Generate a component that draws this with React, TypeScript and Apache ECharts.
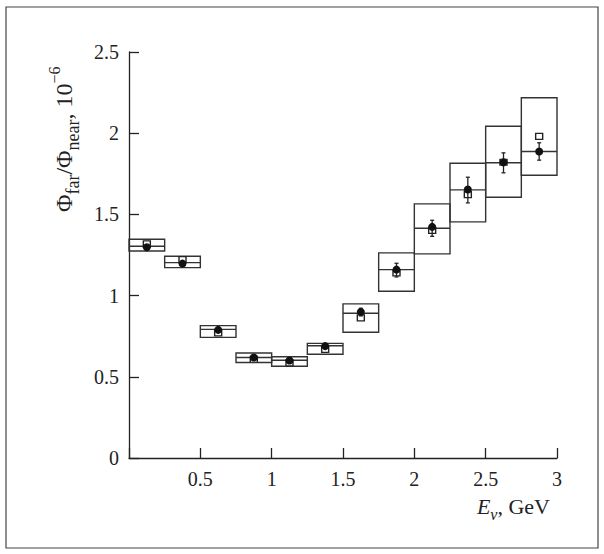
import React, { useEffect, useRef } from "react";
import * as echarts from "echarts";

const binLow = [0, 0.25, 0.5, 0.75, 1, 1.25, 1.5, 1.75, 2, 2.25, 2.5, 2.75];
const binHigh = [0.25, 0.5, 0.75, 1, 1.25, 1.5, 1.75, 2, 2.25, 2.5, 2.75, 3];
const central = [1.304, 1.203, 0.792, 0.619, 0.602, 0.691, 0.891, 1.16, 1.415, 1.651, 1.818, 1.887];
const systLow = [1.275, 1.172, 0.743, 0.588, 0.565, 0.639, 0.774, 1.027, 1.257, 1.454, 1.606, 1.741];
const systHigh = [1.347, 1.242, 0.815, 0.647, 0.623, 0.706, 0.949, 1.263, 1.565, 1.815, 2.043, 2.218];
const circleVal = [1.298, 1.197, 0.789, 0.619, 0.6, 0.689, 0.9, 1.16, 1.423, 1.653, 1.821, 1.887];
const circleErrLow = [1.29, 1.189, 0.781, 0.611, 0.592, 0.68, 0.875, 1.115, 1.365, 1.571, 1.756, 1.834];
const circleErrHigh = [1.306, 1.205, 0.797, 0.627, 0.608, 0.698, 0.922, 1.199, 1.464, 1.729, 1.879, 1.941];
const squareVal = [1.318, 1.222, 0.77, 0.608, 0.586, 0.669, 0.863, 1.14, 1.402, 1.622, 1.821, 1.98];

const INK = "#222";
const FONT = "'Liberation Serif', 'Times New Roman', serif";

export default function App() {
  const ref = useRef<HTMLDivElement>(null);
  useEffect(() => {
    if (!ref.current) return;
    const chart = echarts.init(ref.current, null, { renderer: "svg" });
    const centers = binLow.map((l, i) => (l + binHigh[i]) / 2);
    const boxData = binLow.map((l, i) => [l, binHigh[i], systLow[i], systHigh[i], central[i]]);
    const errData = centers.map((c, i) => [c, circleErrLow[i], circleErrHigh[i]]);
    chart.setOption({
      animation: false,
      grid: { left: 129, right: 47, top: 52, bottom: 96 },
      xAxis: {
        type: "value",
        min: 0,
        max: 3,
        interval: 0.5,
        splitLine: { show: false },
        axisLine: { lineStyle: { color: INK, width: 1.3 } },
        axisTick: { inside: true, length: 10, lineStyle: { color: INK, width: 1.3 } },
        axisLabel: {
          color: INK,
          fontFamily: FONT,
          fontSize: 20,
          margin: 11,
          formatter: (v: number) => (v === 0 ? "" : String(v)),
        },
      },
      yAxis: {
        type: "value",
        min: 0,
        max: 2.5,
        interval: 0.5,
        splitLine: { show: false },
        axisLine: { show: true, lineStyle: { color: INK, width: 1.3 } },
        axisTick: { show: true, inside: true, length: 10, lineStyle: { color: INK, width: 1.3 } },
        axisLabel: { color: INK, fontFamily: FONT, fontSize: 20, margin: 10 },
      },
      graphic: [
        {
          type: "rect",
          shape: { x: 6, y: 7, width: 592, height: 541 },
          style: { fill: "none", stroke: "#444", lineWidth: 1.2 },
          silent: true,
        },
        {
          type: "text",
          x: 64,
          y: 138,
          rotation: Math.PI / 2,
          style: {
            text: "{m|Φ}{s|far}{m|/Φ}{s|near}{m|, 10}{p|−6}{h| }",
            align: "center",
            verticalAlign: "middle",
            fill: INK,
            rich: {
              m: { fontFamily: FONT, fontSize: 24, fill: INK, verticalAlign: "middle", lineHeight: 24 },
              s: { fontFamily: FONT, fontSize: 18, fill: INK, verticalAlign: "bottom", lineHeight: 18 },
              p: { fontFamily: FONT, fontSize: 16, fill: INK, verticalAlign: "top", lineHeight: 16 },
              h: { fontFamily: FONT, fontSize: 10, lineHeight: 36 },
            },
          },
        },
        {
          type: "text",
          x: 551,
          y: 506,
          style: {
            text: "{e|E}{v|ν}{m|, GeV}{h| }",
            align: "right",
            verticalAlign: "middle",
            fill: INK,
            rich: {
              e: { fontFamily: FONT, fontStyle: "italic", fontSize: 22, fill: INK, verticalAlign: "middle", lineHeight: 22 },
              v: { fontFamily: FONT, fontStyle: "italic", fontSize: 16, fill: INK, verticalAlign: "bottom", lineHeight: 16 },
              m: { fontFamily: FONT, fontSize: 22, fill: INK, verticalAlign: "middle", lineHeight: 22 },
              h: { fontFamily: FONT, fontSize: 4, lineHeight: 32 },
            },
          },
        },
      ],
      series: [
        {
          type: "custom",
          name: "syst",
          data: boxData,
          encode: { x: [0, 1], y: [2, 3, 4] },
          renderItem: (_p: any, api: any) => {
            const x0 = api.value(0), x1 = api.value(1);
            const lo = api.value(2), hi = api.value(3), c = api.value(4);
            const a = api.coord([x0, hi]);
            const b = api.coord([x1, lo]);
            const m0 = api.coord([x0, c]);
            const m1 = api.coord([x1, c]);
            return {
              type: "group",
              children: [
                {
                  type: "rect",
                  shape: { x: a[0], y: a[1], width: b[0] - a[0], height: b[1] - a[1] },
                  style: { fill: "none", stroke: "#333", lineWidth: 1.4 },
                },
                {
                  type: "line",
                  shape: { x1: m0[0], y1: m0[1], x2: m1[0], y2: m1[1] },
                  style: { stroke: "#333", lineWidth: 1.4 },
                },
              ],
            };
          },
          z: 1,
        },
        {
          type: "scatter",
          name: "squares",
          data: centers.map((c, i) => [c, squareVal[i]]),
          symbol: "rect",
          symbolSize: [7, 6],
          itemStyle: { color: "#fff", borderColor: INK, borderWidth: 1.3, opacity: 1 },
          z: 2,
        },
        {
          type: "custom",
          name: "err",
          data: errData,
          encode: { x: 0, y: [1, 2] },
          renderItem: (_p: any, api: any) => {
            const x = api.value(0);
            const p0 = api.coord([x, api.value(1)]);
            const p1 = api.coord([x, api.value(2)]);
            const cap = 2;
            return {
              type: "group",
              children: [
                { type: "line", shape: { x1: p0[0], y1: p0[1], x2: p1[0], y2: p1[1] }, style: { stroke: INK, lineWidth: 1.3 } },
                { type: "line", shape: { x1: p0[0] - cap, y1: p0[1], x2: p0[0] + cap, y2: p0[1] }, style: { stroke: INK, lineWidth: 1.3 } },
                { type: "line", shape: { x1: p1[0] - cap, y1: p1[1], x2: p1[0] + cap, y2: p1[1] }, style: { stroke: INK, lineWidth: 1.3 } },
              ],
            };
          },
          z: 3,
        },
        {
          type: "scatter",
          name: "circles",
          data: centers.map((c, i) => [c, circleVal[i]]),
          symbol: "circle",
          symbolSize: 8,
          itemStyle: { color: "#111", opacity: 1 },
          z: 4,
        },
      ],
    });
    return () => chart.dispose();
  }, []);
  return (
    <div
      ref={ref}
      style={{ position: "fixed", left: 0, top: 0, width: 604, height: 554, background: "#fff" }}
    />
  );
}
